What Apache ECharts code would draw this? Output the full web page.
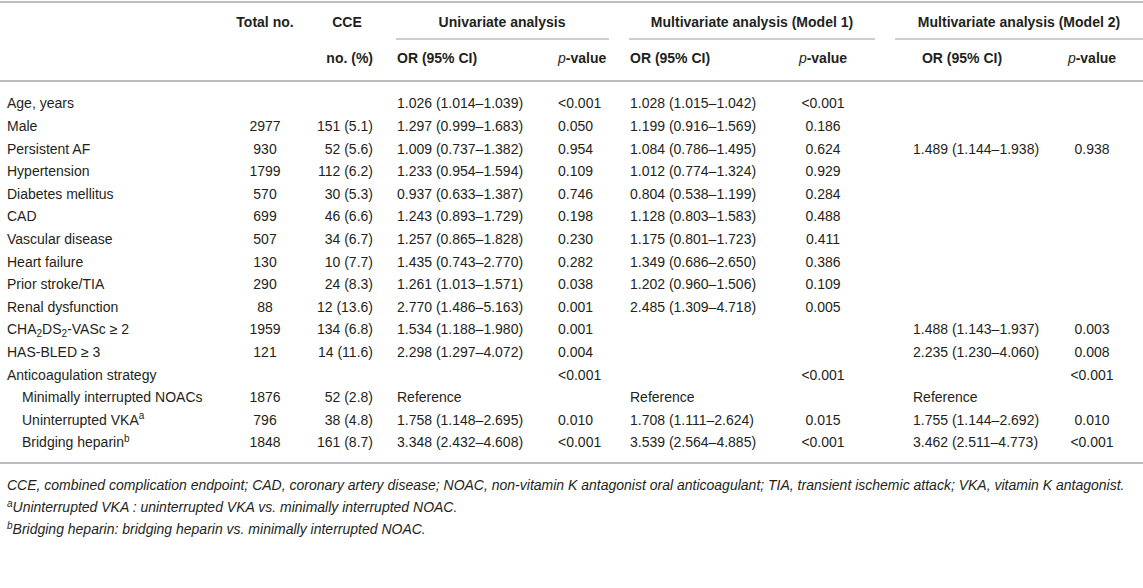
<!DOCTYPE html>
<html>
<head>
<meta charset="utf-8">
<title>CCE predictors</title>
<script src="https://cdn.jsdelivr.net/npm/echarts@6.0.0/dist/echarts.min.js"></script>
</head>
<body style="margin:0;background:#fff">
<div id="main" style="width:1143px;height:588px;"></div>
<script type="text/javascript">
// table content
var rowLabels = ['Age, years', 'Male', 'Persistent AF', 'Hypertension', 'Diabetes mellitus', 'CAD',
    'Vascular disease', 'Heart failure', 'Prior stroke/TIA', 'Renal dysfunction',
    'CHA{s|2}DS{s|2}-VASc ≥ 2', 'HAS-BLED ≥ 3', 'Anticoagulation strategy',
    'Minimally interrupted NOACs', 'Uninterrupted VKA{u|a}', 'Bridging heparin{u|b}'];
var totalNo = ['', '2977', '930', '1799', '570', '699', '507', '130', '290', '88', '1959', '121', '', '1876', '796', '1848'];
var cce = ['', '151 (5.1)', '52 (5.6)', '112 (6.2)', '30 (5.3)', '46 (6.6)', '34 (6.7)', '10 (7.7)', '24 (8.3)',
    '12 (13.6)', '134 (6.8)', '14 (11.6)', '', '52 (2.8)', '38 (4.8)', '161 (8.7)'];
var uniOR = ['1.026 (1.014–1.039)', '1.297 (0.999–1.683)', '1.009 (0.737–1.382)', '1.233 (0.954–1.594)',
    '0.937 (0.633–1.387)', '1.243 (0.893–1.729)', '1.257 (0.865–1.828)', '1.435 (0.743–2.770)',
    '1.261 (1.013–1.571)', '2.770 (1.486–5.163)', '1.534 (1.188–1.980)', '2.298 (1.297–4.072)',
    '', 'Reference', '1.758 (1.148–2.695)', '3.348 (2.432–4.608)'];
var uniP = ['<0.001', '0.050', '0.954', '0.109', '0.746', '0.198', '0.230', '0.282', '0.038', '0.001',
    '0.001', '0.004', '<0.001', '', '0.010', '<0.001'];
var m1OR = ['1.028 (1.015–1.042)', '1.199 (0.916–1.569)', '1.084 (0.786–1.495)', '1.012 (0.774–1.324)',
    '0.804 (0.538–1.199)', '1.128 (0.803–1.583)', '1.175 (0.801–1.723)', '1.349 (0.686–2.650)',
    '1.202 (0.960–1.506)', '2.485 (1.309–4.718)', '', '', '', 'Reference', '1.708 (1.111–2.624)', '3.539 (2.564–4.885)'];
var m1P = ['<0.001', '0.186', '0.624', '0.929', '0.284', '0.488', '0.411', '0.386', '0.109', '0.005',
    '', '', '<0.001', '', '0.015', '<0.001'];
var m2OR = ['', '', '1.489 (1.144–1.938)', '', '', '', '', '', '', '', '1.488 (1.143–1.937)',
    '2.235 (1.230–4.060)', '', 'Reference', '1.755 (1.144–2.692)', '3.462 (2.511–4.773)'];
var m2P = ['', '', '0.938', '', '', '', '', '', '', '', '0.003', '0.008', '<0.001', '', '0.010', '<0.001'];

var headerGroups = ['Total no.', 'CCE', 'Univariate analysis', 'Multivariate analysis (Model 1)', 'Multivariate analysis (Model 2)'];
var headerSub = ['no. (%)', 'OR (95% CI)', '{i|p}-value', 'OR (95% CI)', '{i|p}-value', 'OR (95% CI)', '{i|p}-value'];
var footnotes = [
    'CCE, combined complication endpoint; CAD, coronary artery disease; NOAC, non-vitamin K antagonist oral anticoagulant; TIA, transient ischemic attack; VKA, vitamin K antagonist.',
    '{u|a}Uninterrupted VKA : uninterrupted VKA vs. minimally interrupted NOAC.',
    '{u|b}Bridging heparin: bridging heparin vs. minimally interrupted NOAC.'
];

// layout
var W = 1143;
var bodyColX = [7, 265, 373, 397, 558, 630, 823, 913, 1092];
var bodyColAlign = ['left', 'center', 'right', 'left', 'left', 'left', 'center', 'left', 'center'];
var indentRows = [13, 14, 15];
var indentX = 22;
var groupX = [265, 347, 502, 752, 1019];
var subX = [373, 397, 558, 630, 823, 962, 1092];
var subAlign = ['right', 'left', 'left', 'left', 'center', 'center', 'center'];
var groupLines = [[396, 609], [629, 875], [895, W]];

var FONT = '"Liberation Sans", Arial, Helvetica, sans-serif';
var TEXT = '#231f20';
var RULE = '#bdbdbd';
var rich = {
    s: {fontSize: 10, verticalAlign: 'bottom', lineHeight: 11, fontFamily: FONT, fill: TEXT},
    u: {fontSize: 10, verticalAlign: 'top', lineHeight: 11, fontFamily: FONT, fill: TEXT},
    i: {fontStyle: 'italic', fontWeight: 'normal', fontSize: 14, fontFamily: FONT, fill: TEXT}
};
var richFoot = {
    u: {fontSize: 10, verticalAlign: 'top', lineHeight: 11, fontStyle: 'italic', fontFamily: FONT, fill: TEXT}
};

// cells per block
var headCells = [], bodyCells = [], footCells = [];
headerGroups.forEach(function (t, i) {
    headCells.push({x: groupX[i], row: 0, text: t, align: 'center', bold: true});
});
headerSub.forEach(function (t, i) {
    headCells.push({x: subX[i], row: 1, text: t, align: subAlign[i], bold: true});
});
[rowLabels, totalNo, cce, uniOR, uniP, m1OR, m1P, m2OR, m2P].forEach(function (col, c) {
    col.forEach(function (t, r) {
        if (!t) return;
        var x = bodyColX[c];
        if (c === 0 && indentRows.indexOf(r) >= 0) x = indentX;
        bodyCells.push({x: x, row: r, text: t, align: bodyColAlign[c]});
    });
});
footnotes.forEach(function (t, r) {
    footCells.push({x: 7, row: r, text: t, align: 'left', italic: true, size: 14});
});

function textSeries(cells, idx, richStyle) {
    return {
        type: 'custom',
        xAxisIndex: idx,
        yAxisIndex: idx,
        silent: true,
        data: cells.map(function (c, i) { return [c.x, c.row, i]; }),
        renderItem: function (params, api) {
            var c = cells[api.value(2)];
            var p = api.coord([api.value(0), api.value(1)]);
            return {
                type: 'text',
                x: p[0],
                y: p[1],
                style: {
                    text: c.text,
                    align: c.align,
                    verticalAlign: 'middle',
                    fontFamily: FONT,
                    fontSize: c.size || 14,
                    fontWeight: c.bold ? 'bold' : 'normal',
                    fontStyle: c.italic ? 'italic' : 'normal',
                    lineHeight: 18,
                    fill: TEXT,
                    rich: richStyle
                }
            };
        }
    };
}

function rowIds(n) {
    var a = [];
    for (var i = 0; i < n; i++) a.push('r' + i);
    return a;
}

var rules = [
    {type: 'line', shape: {x1: 0, y1: 2, x2: W, y2: 2}, style: {stroke: RULE, lineWidth: 2}},
    {type: 'line', shape: {x1: 0, y1: 81, x2: W, y2: 81}, style: {stroke: RULE, lineWidth: 2}},
    {type: 'line', shape: {x1: 0, y1: 463, x2: W, y2: 463}, style: {stroke: RULE, lineWidth: 2}}
];
groupLines.forEach(function (g) {
    rules.push({type: 'line', shape: {x1: g[0], y1: 39, x2: g[1], y2: 39}, style: {stroke: RULE, lineWidth: 1.5}});
});

var grids = [
    {left: 0, right: 0, top: 4, height: 72},
    {left: 0, right: 0, top: 92, height: 361.6},
    {left: 0, right: 0, top: 474, height: 66}
];
var rowCounts = [2, rowLabels.length, footnotes.length];

var option = {
    animation: false,
    backgroundColor: '#fff',
    grid: grids,
    xAxis: grids.map(function (g, i) {
        return {type: 'value', gridIndex: i, min: 0, max: W, show: false};
    }),
    yAxis: grids.map(function (g, i) {
        return {type: 'category', gridIndex: i, inverse: true, data: rowIds(rowCounts[i]), show: false};
    }),
    graphic: rules,
    series: [
        textSeries(headCells, 0, rich),
        textSeries(bodyCells, 1, rich),
        textSeries(footCells, 2, richFoot)
    ]
};

var myChart = echarts.init(document.getElementById('main'), null, {renderer: 'svg'});
myChart.setOption(option);
</script>
</body>
</html>
